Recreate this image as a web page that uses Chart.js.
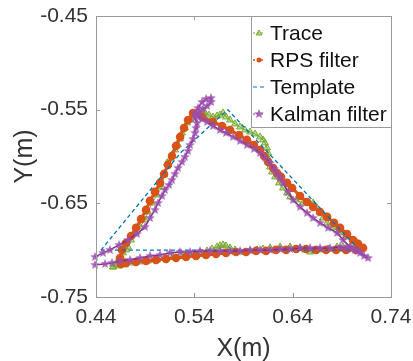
<!DOCTYPE html>
<html>
<head>
<meta charset="utf-8">
<script src="https://cdn.jsdelivr.net/npm/chart.js@4.4.0/dist/chart.umd.min.js"></script>
<style>
  html, body { margin: 0; padding: 0; background: #fff; }
  #wrap { width: 413px; height: 361px; position: relative; }
</style>
</head>
<body>
<div id="wrap"><canvas id="c" width="413" height="361"></canvas></div>
<script>
const xTicks = [0.44, 0.54, 0.64, 0.74];
const yTicks = [-0.75, -0.65, -0.55, -0.45];
const seriesNames = ['Trace', 'RPS filter', 'Template', 'Kalman filter'];
const xTitle = 'X(m)', yTitle = 'Y(m)';

const traceX = [0.4573,0.4603,0.4624,0.4654,0.4675,0.4705,0.4726,0.4756,0.4797,0.4848,
    0.4898,0.4929,0.4970,0.5021,0.5071,0.5092,0.5122,0.5153,0.5173,0.5204,
    0.5234,0.5255,0.5275,0.5305,0.5326,0.5356,0.5377,0.5407,0.5438,0.5478,
    0.5509,0.5549,0.5590,0.5631,0.5661,0.5692,0.5722,0.5763,0.5814,0.5865,
    0.5915,0.5967,0.6017,0.6068,0.6098,0.6119,0.6139,0.6150,0.6160,0.6170,
    0.6190,0.6221,0.6261,0.6302,0.6343,0.6374,0.6435,0.6506,0.6556,0.6608,
    0.6648,0.6679,0.6709,0.6750,0.6811,0.6882,0.6943,0.7014,0.7055,0.7086,
    0.7035,0.6984,0.6912,0.6852,0.6760,0.6679,0.6628,0.6577,0.6526,0.6475,
    0.6374,0.6272,0.6170,0.6098,0.6038,0.5967,0.5915,0.5865,0.5814,0.5763,
    0.5722,0.5692,0.5661,0.5631,0.5580,0.5529,0.5458,0.5407,0.5356,0.5275,
    0.5183,0.5102,0.5021,0.4929,0.4848,0.4776,0.4695,0.4634,0.4573];
const traceY = [-0.7179,-0.7147,-0.7125,-0.7072,-0.7029,-0.6997,-0.6965,-0.6891,-0.6816,-0.6752,
    -0.6677,-0.6592,-0.6496,-0.6410,-0.6325,-0.6197,-0.6069,-0.6026,-0.5983,-0.5930,
    -0.5877,-0.5813,-0.5749,-0.5695,-0.5642,-0.5610,-0.5578,-0.5546,-0.5525,-0.5525,
    -0.5535,-0.5557,-0.5578,-0.5567,-0.5557,-0.5535,-0.5578,-0.5610,-0.5652,-0.5685,
    -0.5717,-0.5738,-0.5759,-0.5791,-0.5823,-0.5855,-0.5908,-0.5962,-0.6036,-0.6112,
    -0.6165,-0.6218,-0.6282,-0.6336,-0.6389,-0.6432,-0.6464,-0.6496,-0.6485,-0.6496,
    -0.6549,-0.6602,-0.6656,-0.6709,-0.6762,-0.6816,-0.6858,-0.6891,-0.6922,-0.6944,
    -0.6954,-0.6965,-0.6965,-0.6965,-0.6987,-0.6997,-0.7008,-0.7019,-0.6997,-0.6976,
    -0.6965,-0.6965,-0.6976,-0.6987,-0.6997,-0.7008,-0.7019,-0.7019,-0.6997,-0.6976,
    -0.6954,-0.6944,-0.6954,-0.6965,-0.6987,-0.7008,-0.7029,-0.7040,-0.7051,-0.7061,
    -0.7072,-0.7083,-0.7104,-0.7115,-0.7125,-0.7136,-0.7157,-0.7168,-0.7179];

const rpsX = [0.4654,0.4644,0.4664,0.4705,0.4756,0.4807,0.4858,0.4909,0.4949,0.5000,
    0.5051,0.5092,0.5132,0.5173,0.5214,0.5255,0.5295,0.5336,0.5387,
    0.5478,0.5590,0.5682,0.5763,0.5855,0.5936,0.6007,0.6068,0.6109,0.6150,
    0.6201,0.6241,0.6282,0.6343,0.6394,0.6475,0.6546,0.6608,0.6679,0.6750,
    0.6821,0.6882,0.6953,0.7014,0.7065,0.7116,
    0.7045,0.6943,0.6842,0.6740,0.6638,0.6536,0.6435,0.6333,0.6231,0.6129,
    0.6028,0.5926,0.5824,0.5722,0.5621,0.5519,0.5417,0.5316,0.5214,0.5112,
    0.5010,0.4909,0.4807,0.4705,0.4654];
const rpsY = [-0.7147,-0.7083,-0.6997,-0.6923,-0.6848,-0.6762,-0.6667,-0.6570,-0.6474,-0.6378,
    -0.6282,-0.6186,-0.6090,-0.5994,-0.5887,-0.5791,-0.5695,-0.5610,-0.5535,
    -0.5578,-0.5631,-0.5674,-0.5717,-0.5770,-0.5823,-0.5877,-0.5930,-0.5994,-0.6058,
    -0.6122,-0.6176,-0.6218,-0.6282,-0.6336,-0.6421,-0.6485,-0.6538,-0.6592,-0.6645,
    -0.6709,-0.6762,-0.6827,-0.6891,-0.6933,-0.6976,
    -0.6997,-0.6997,-0.6997,-0.6997,-0.6997,-0.6987,-0.6987,-0.6997,-0.6997,-0.7008,
    -0.7008,-0.7019,-0.7019,-0.7029,-0.7040,-0.7051,-0.7061,-0.7072,-0.7083,-0.7093,
    -0.7104,-0.7115,-0.7125,-0.7136,-0.7147];

const templateX = [0.445, 0.527, 0.574, 0.708, 0.445];
const templateY = [-0.700, -0.595, -0.550, -0.700, -0.700];

const kalmanX = [0.4390,0.4471,0.4542,0.4634,0.4726,0.4817,0.4898,0.4949,0.5000,0.5031,
    0.5071,0.5102,0.5143,0.5173,0.5204,0.5234,0.5275,0.5305,0.5336,0.5356,
    0.5387,0.5407,0.5417,0.5427,0.5407,0.5407,0.5438,0.5478,0.5519,0.5570,
    0.5570,0.5529,0.5488,0.5448,0.5427,
    0.5478,0.5529,0.5590,0.5661,0.5722,0.5794,0.5865,0.5936,0.6007,0.6068,
    0.6119,0.6170,0.6211,0.6241,0.6272,0.6302,0.6353,0.6404,0.6475,0.6546,
    0.6608,0.6679,0.6760,0.6852,0.6913,0.6984,0.7035,0.7086,0.7126,0.7167,
    0.7065,0.7004,0.6943,0.6882,
    0.6780,0.6679,0.6577,0.6475,0.6374,0.6272,0.6170,0.6068,0.5967,0.5865,
    0.5763,0.5661,0.5560,0.5458,0.5356,0.5255,0.5153,0.5051,0.4949,0.4848,
    0.4746,0.4644,0.4563,0.4492,0.4390];
const kalmanY = [-0.7072,-0.7029,-0.6997,-0.6944,-0.6891,-0.6827,-0.6752,-0.6656,-0.6570,-0.6496,
    -0.6421,-0.6357,-0.6304,-0.6250,-0.6186,-0.6122,-0.6058,-0.6005,-0.5941,-0.5877,
    -0.5813,-0.5749,-0.5695,-0.5642,-0.5589,-0.5535,-0.5482,-0.5418,-0.5386,-0.5375,
    -0.5418,-0.5461,-0.5493,-0.5535,-0.5567,
    -0.5599,-0.5631,-0.5674,-0.5717,-0.5749,-0.5791,-0.5834,-0.5877,-0.5919,-0.5962,
    -0.6015,-0.6069,-0.6133,-0.6186,-0.6229,-0.6282,-0.6378,-0.6464,-0.6538,-0.6602,
    -0.6656,-0.6709,-0.6762,-0.6816,-0.6891,-0.6965,-0.6997,-0.7029,-0.7061,-0.7083,
    -0.7008,-0.6987,-0.6976,-0.6965,
    -0.6976,-0.6976,-0.6976,-0.6976,-0.6987,-0.6987,-0.6997,-0.6997,-0.6997,-0.7008,
    -0.7008,-0.7008,-0.7008,-0.7008,-0.7019,-0.7019,-0.7029,-0.7051,-0.7061,-0.7083,
    -0.7104,-0.7115,-0.7136,-0.7147,-0.7157];

const ff = '"Liberation Sans", Arial, sans-serif';
const txt = '#333333';
const axisCol = '#9a9a9a';
const cGreen = '#77AC30', cOrange = '#D95319', cBlue = '#0072BD', cPurple = '#7E2F8E';

const pts = (xs, ys) => xs.map((x, i) => ({ x: x, y: ys[i] }));

// filled 5-point star used as the Kalman marker
function starCanvas(color, r) {
    const s = Math.ceil(r * 2 + 2);
    const c = document.createElement('canvas');
    c.width = s; c.height = s;
    const g = c.getContext('2d');
    g.beginPath();
    for (let i = 0; i < 10; i++) {
        const rr = i % 2 ? r * 0.45 : r;
        const a = -Math.PI / 2 + i * Math.PI / 5;
        g.lineTo(s / 2 + rr * Math.cos(a), s / 2 + rr * Math.sin(a));
    }
    g.closePath();
    g.fillStyle = color;
    g.globalAlpha = 0.85;
    g.fill();
    return c;
}
const star = starCanvas('#9c4fae', 5);

// box round the plot with inward ticks, plus the two axis titles
const boxPlugin = {
    id: 'box',
    afterDatasetsDraw(chart) {
        const { ctx, chartArea: a, scales } = chart;
        ctx.save();
        ctx.strokeStyle = axisCol;
        ctx.lineWidth = 1;
        ctx.strokeRect(a.left + 0.5, a.top + 0.5, a.right - a.left, a.bottom - a.top);
        ctx.beginPath();
        xTicks.forEach(v => {
            const px = Math.round(scales.x.getPixelForValue(v)) + 0.5;
            ctx.moveTo(px, a.bottom); ctx.lineTo(px, a.bottom - 4);
            ctx.moveTo(px, a.top); ctx.lineTo(px, a.top + 4);
        });
        yTicks.forEach(v => {
            const py = Math.round(scales.y.getPixelForValue(v)) + 0.5;
            ctx.moveTo(a.left, py); ctx.lineTo(a.left + 4, py);
            ctx.moveTo(a.right, py); ctx.lineTo(a.right - 4, py);
        });
        ctx.stroke();

        ctx.fillStyle = txt;
        ctx.font = '25px ' + ff;
        ctx.textAlign = 'center';
        ctx.textBaseline = 'alphabetic';
        ctx.fillText(xTitle, (a.left + a.right) / 2, 356);
        ctx.translate(32, (a.top + a.bottom) / 2);
        ctx.rotate(-Math.PI / 2);
        ctx.fillText(yTitle, 0, 0);
        ctx.restore();
    }
};

// legend box in the top-right corner
const legendPlugin = {
    id: 'boxLegend',
    afterDraw(chart) {
        const { ctx, chartArea: a } = chart;
        const x0 = 251.5, y0 = Math.round(a.top) + 0.5, x1 = Math.round(a.right) + 0.5, y1 = 127.5;
        ctx.save();
        ctx.fillStyle = '#fff';
        ctx.fillRect(x0, y0, x1 - x0, y1 - y0);
        ctx.strokeStyle = axisCol;
        ctx.lineWidth = 1;
        ctx.strokeRect(x0, y0, x1 - x0, y1 - y0);
        const rows = [33, 60, 87, 114];
        const cols = [cGreen, cOrange, cBlue, cPurple];
        rows.forEach((ry, i) => {
            ctx.strokeStyle = cols[i];
            ctx.lineWidth = i === 1 ? 1.5 : 1;
            ctx.setLineDash(i === 2 ? [4, 3] : [2, 2]);
            ctx.beginPath();
            ctx.moveTo(253, ry); ctx.lineTo(265, ry);
            ctx.stroke();
            ctx.setLineDash([]);
            if (i === 0) {
                ctx.fillStyle = 'rgba(119,172,48,0.5)';
                ctx.beginPath();
                ctx.moveTo(259, ry - 3); ctx.lineTo(262, ry + 2); ctx.lineTo(256, ry + 2); ctx.closePath();
                ctx.fill(); ctx.stroke();
            } else if (i === 1) {
                ctx.fillStyle = cOrange;
                ctx.beginPath(); ctx.arc(259, ry, 2.5, 0, Math.PI * 2); ctx.fill();
            } else if (i === 3) {
                ctx.drawImage(star, 259 - star.width / 2, ry - star.height / 2);
            }
            ctx.fillStyle = '#111';
            ctx.font = '21px ' + ff;
            ctx.textBaseline = 'middle';
            ctx.fillText(seriesNames[i], 270, ry + 1);
        });
        ctx.restore();
    }
};

new Chart(document.getElementById('c'), {
    type: 'scatter',
    data: {
        datasets: [
            { label: seriesNames[0], data: pts(traceX, traceY), showLine: true, order: 3,
              borderColor: cGreen, borderWidth: 1, pointStyle: 'triangle', pointRadius: 4,
              pointBackgroundColor: 'rgba(119,172,48,0.45)', pointBorderColor: cGreen, pointBorderWidth: 1 },
            { label: seriesNames[1], data: pts(rpsX, rpsY), showLine: true, order: 2,
              borderColor: cOrange, borderWidth: 3, pointStyle: 'circle', pointRadius: 2.8,
              pointBackgroundColor: cOrange, pointBorderColor: cOrange },
            { label: seriesNames[2], data: pts(templateX, templateY), showLine: true, order: 1,
              borderColor: cBlue, borderWidth: 1.3, borderDash: [4, 3], pointRadius: 0 },
            { label: seriesNames[3], data: pts(kalmanX, kalmanY), showLine: true, order: 0,
              borderColor: cPurple, borderWidth: 1.5, pointStyle: star, pointRadius: 5 }
        ]
    },
    options: {
        responsive: false, animation: false,
        clip: false,
        layout: { padding: { left: 0, right: 22, top: 16, bottom: 0 } },
        plugins: { legend: { display: false }, tooltip: { enabled: false } },
        scales: {
            x: {
                type: 'linear', min: 0.44, max: 0.74,
                afterBuildTicks: s => { s.ticks = xTicks.map(v => ({ value: v })); },
                afterFit: s => { s.height = 64; s.paddingLeft = 0; s.paddingRight = 0; },
                grid: { display: false, drawTicks: false },
                border: { display: false },
                ticks: { font: { size: 21, family: ff }, color: txt, padding: 8, callback: v => v.toFixed(2) }
            },
            y: {
                type: 'linear', min: -0.75, max: -0.45,
                afterBuildTicks: s => { s.ticks = yTicks.map(v => ({ value: v })); },
                afterFit: s => { s.width = 96; s.paddingTop = 0; s.paddingBottom = 0; },
                grid: { display: false, drawTicks: false },
                border: { display: false },
                ticks: { font: { size: 21, family: ff }, color: txt, padding: 8, callback: v => v.toFixed(2) }
            }
        }
    },
    plugins: [boxPlugin, legendPlugin]
});
</script>
</body>
</html>
